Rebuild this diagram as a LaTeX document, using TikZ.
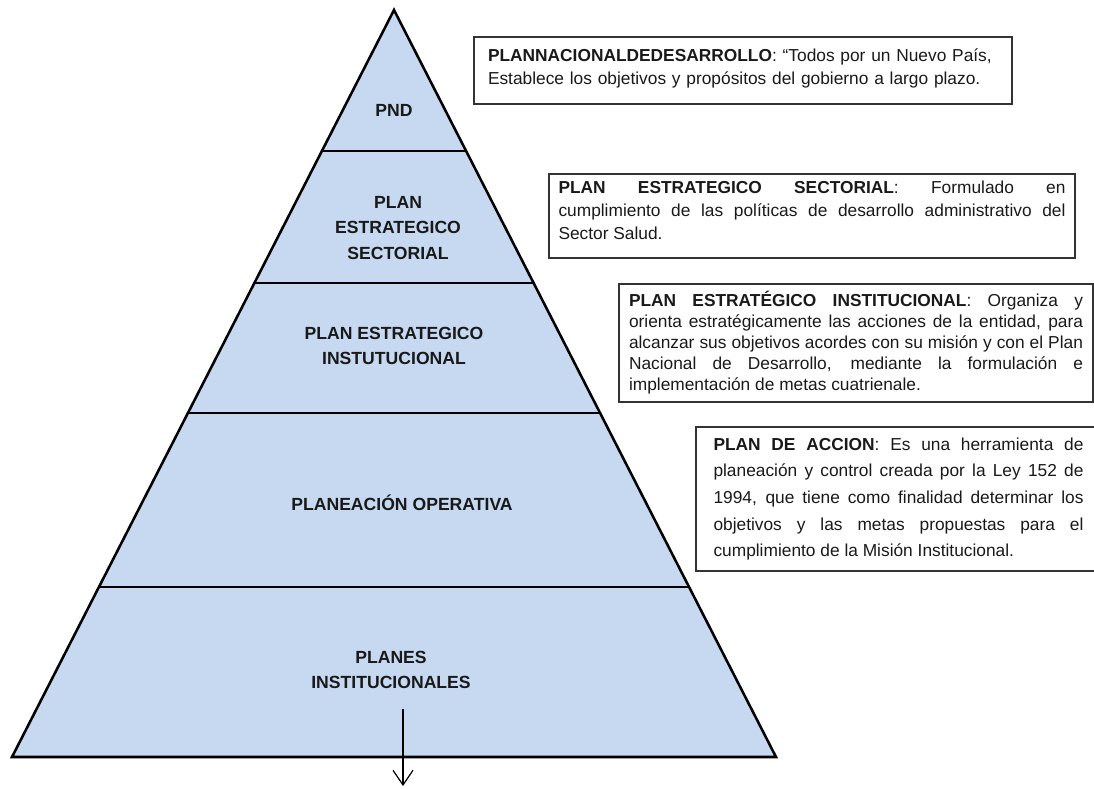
\documentclass[tikz,border=0pt]{standalone}
\usepackage{fontspec}
\setmainfont{Liberation Sans}
\usetikzlibrary{
  calc
  , arrows.meta
}
\definecolor{pyrfill}{RGB}{198,217,241}
\definecolor{boxline}{RGB}{51,51,51}
\tolerance=9999
\hyphenpenalty=10000

\begin{document}
\begin{tikzpicture}[x=0.75pt, y=-0.75pt]
      \tikzstyle{level text}=[align=center, text=black!90, font=\fontsize{13.2}{19}\selectfont\bfseries]
      \tikzstyle{note box}=[draw=boxline, line width=1.5pt, anchor=north west, align=justify, text=black!90]

      \clip (0,0) rectangle (1094,788);

      \coordinate (A) at (394,10);
      \coordinate (L) at (12,757);
      \coordinate (R) at (776,757);

      \fill [pyrfill] (A) -- (L) -- (R) -- cycle;
      \foreach \y in {151,283,413,587}
        \draw [line width=1.1pt] ($(A)!{(\y-10)/747}!(L)$) -- ($(A)!{(\y-10)/747}!(R)$);
      \draw [line width=1.9pt, line join=miter] (A) -- (L) -- (R) -- cycle;

      \node [level text] (pnd) at (394,110) {PND};
      \node [level text] (pes) at (398,228) {PLAN\\ESTRATEGICO\\SECTORIAL};
      \node [level text] (pei) at (394,346) {PLAN ESTRATEGICO\\INSTUTUCIONAL};
      \node [level text] (pop) at (402,503) {PLANEACIÓN OPERATIVA};
      \node [level text] (pin) at (391,670) {PLANES\\INSTITUCIONALES};

      \coordinate (down) at (403,709);
      \coordinate (out) at (403,786);
      \draw [-{Straight Barb[length=11pt,width=15pt]}, line width=0.9pt] (down) -- (out);

      \node [note box, align=left, minimum width=403.5pt, minimum height=50.25pt, text width=382.5pt,
        font=\fontsize{13}{17.25}\selectfont] (pndbox) at (473,36)
        {\textbf{PLANNACIONALDEDESARROLLO}: “Todos por un Nuevo País,\\Establece los objetivos y propósitos del gobierno a largo plazo.\par\vspace*{3pt}};
      \node [note box, minimum width=394.5pt, minimum height=63pt, text width=380.25pt,
        font=\fontsize{13}{17.25}\selectfont] (pesbox) at (548,173)
        {\textbf{PLAN ESTRATEGICO SECTORIAL}: Formulado en\linebreak cumplimiento de las políticas de desarrollo administrativo del\linebreak Sector Salud.\par\vspace*{9pt}};
      \node [note box, minimum width=355.5pt, minimum height=88.5pt, text width=340.5pt,
        font=\fontsize{13}{15.75}\selectfont] (peibox) at (618,283)
        {\textbf{PLAN ESTRATÉGICO INSTITUCIONAL}: Organiza y\linebreak orienta estratégicamente las acciones de la entidad, para\linebreak alcanzar sus objetivos acordes con su misión y con el Plan\linebreak Nacional de Desarrollo, mediante la formulación e\linebreak implementación de metas cuatrienale.};
      \node [note box, minimum width=303.75pt, minimum height=108pt, text width=277.5pt,
        font=\fontsize{13}{20}\selectfont] (pacbox) at (695,426)
        {\textbf{PLAN DE ACCION}: Es una herramienta de\linebreak planeación y control creada por la Ley 152 de\linebreak 1994, que tiene como finalidad determinar los\linebreak objetivos y las metas propuestas para el\linebreak cumplimiento de la Misión Institucional.};

\end{tikzpicture}
\end{document}
